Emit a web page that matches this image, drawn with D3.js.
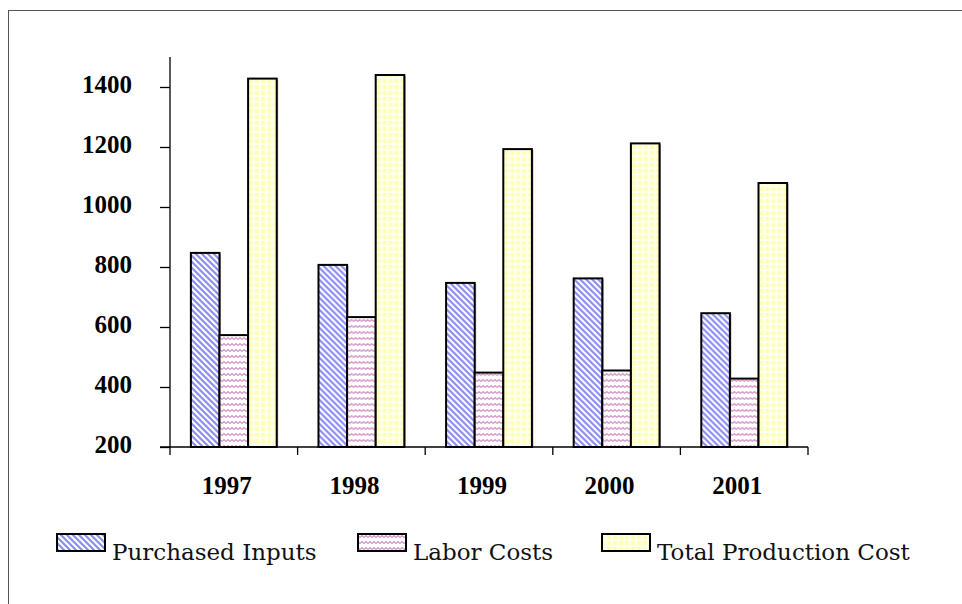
<!DOCTYPE html>
<html>
<head>
<meta charset="utf-8">
<script src="https://cdn.jsdelivr.net/npm/d3@7"></script>
<style>
  body { margin: 0; background: #fff; }
  svg { display: block; }
  .serif { font-family: "Liberation Serif", "Times New Roman", Times, serif; }
  .legendText { font-family: "DejaVu Serif", "Liberation Serif", serif; }
</style>
</head>
<body>
<svg id="chart" width="962" height="604"></svg>
<script>
// data
const years = ["1997", "1998", "1999", "2000", "2001"];
const seriesNames = ["Purchased Inputs", "Labor Costs", "Total Production Cost"];
const purchasedInputs = [847, 807, 747, 762, 646];
const laborCosts = [573, 633, 448, 455, 428];
const totalProductionCost = [1428, 1440, 1193, 1212, 1080];
const yTicks = [200, 400, 600, 800, 1000, 1200, 1400];

const series = [purchasedInputs, laborCosts, totalProductionCost];
const fills = ["url(#pInputs)", "url(#pLabor)", "url(#pTotal)"];

const svg = d3.select("#chart");

// outer frame (only left and top edges show)
svg.append("rect")
  .attr("x", 8.5).attr("y", 10.5)
  .attr("width", 1000).attr("height", 700)
  .attr("fill", "none").attr("stroke", "#555").attr("stroke-width", 1);

// patterns
const defs = svg.append("defs");

const p1 = defs.append("pattern").attr("id", "pInputs")
  .attr("patternUnits", "userSpaceOnUse").attr("width", 6).attr("height", 6);
p1.append("rect").attr("width", 6).attr("height", 6).attr("fill", "#fff");
p1.append("path").attr("d", "M-1,-1 L7,7 M-4,2 L4,10 M2,-4 L10,4")
  .attr("stroke", "#8c8cf4").attr("stroke-width", 2.2);

const p2 = defs.append("pattern").attr("id", "pLabor")
  .attr("patternUnits", "userSpaceOnUse").attr("width", 4).attr("height", 6);
p2.append("rect").attr("width", 4).attr("height", 6).attr("fill", "#fff");
p2.append("path").attr("d", "M0,3.5 L2,1.5 L4,3.5")
  .attr("stroke", "#d48ec4").attr("stroke-width", 1.1).attr("fill", "none");

const p3 = defs.append("pattern").attr("id", "pTotal")
  .attr("patternUnits", "userSpaceOnUse").attr("width", 6).attr("height", 6);
p3.append("rect").attr("width", 6).attr("height", 6).attr("fill", "#fffff0");
p3.append("circle").attr("cx", 3).attr("cy", 3).attr("r", 2.2).attr("fill", "#ffffb4");

const plotLeft = 170, plotRight = 808, plotTop = 57, plotBottom = 447;

const x = d3.scaleBand().domain(years).range([plotLeft, plotRight]);
const xInner = d3.scaleBand().domain(d3.range(3))
  .range([0, x.bandwidth()]).paddingOuter(0.73).paddingInner(0);
const y = d3.scaleLinear().domain([200, 1500]).range([plotBottom, plotTop]);

// bars
years.forEach((yr, i) => {
  const g = svg.append("g").attr("transform", `translate(${x(yr)},0)`);
  series.forEach((s, k) => {
    // small shadow on the right side
    g.append("rect")
      .attr("x", xInner(k) + xInner.bandwidth())
      .attr("y", y(s[i]) + 1)
      .attr("width", 1.5)
      .attr("height", plotBottom - y(s[i]) - 1)
      .attr("fill", "#aaa");
  });
  series.forEach((s, k) => {
    g.append("rect")
      .attr("x", xInner(k))
      .attr("y", y(s[i]))
      .attr("width", xInner.bandwidth())
      .attr("height", plotBottom - y(s[i]))
      .attr("fill", fills[k])
      .attr("stroke", "#000")
      .attr("stroke-width", 2);
  });
});

// y axis
const yAxis = svg.append("g")
  .attr("transform", `translate(${plotLeft},0)`)
  .call(d3.axisLeft(y).tickValues(yTicks).tickSize(10).tickPadding(28).tickFormat(d3.format("d")));
yAxis.attr("font-family", null).attr("font-size", null);
yAxis.select(".domain").attr("d", `M0,${plotTop}V${plotBottom + 8}`).attr("stroke", "#000").attr("stroke-width", 1.3);
yAxis.selectAll(".tick line").attr("stroke", "#000").attr("stroke-width", 1.3);
yAxis.selectAll("text")
  .attr("class", "serif")
  .attr("dy", "0.2em")
  .style("font-weight", "bold")
  .style("font-size", "25px")
  .attr("fill", "#000");

// x axis
const xAxis = svg.append("g").attr("transform", `translate(0,${plotBottom})`);
xAxis.append("line")
  .attr("x1", plotLeft - 10).attr("x2", plotRight)
  .attr("stroke", "#000").attr("stroke-width", 1.3);
xAxis.selectAll(".sep")
  .data(years.map(d => x(d) + x.bandwidth()))
  .enter().append("line")
  .attr("x1", d => d).attr("x2", d => d)
  .attr("y1", 0).attr("y2", 8)
  .attr("stroke", "#000").attr("stroke-width", 1.3);
xAxis.selectAll(".lbl")
  .data(years)
  .enter().append("text")
  .attr("class", "serif")
  .attr("x", d => x(d) + x.bandwidth() / 2 - 7)
  .attr("y", 47)
  .attr("text-anchor", "middle")
  .style("font-weight", "bold")
  .style("font-size", "25px")
  .text(d => d);

// legend
const legendX = [57, 358, 602];
const legend = svg.append("g");
seriesNames.forEach((name, k) => {
  legend.append("rect")
    .attr("x", legendX[k]).attr("y", 534)
    .attr("width", 48).attr("height", 17)
    .attr("fill", fills[k]).attr("stroke", "#000").attr("stroke-width", 2);
  legend.append("text")
    .attr("class", "legendText")
    .attr("x", legendX[k] + 55).attr("y", 560)
    .style("font-size", "23px")
    .attr("fill", "#111")
    .text(name);
});
</script>
</body>
</html>
